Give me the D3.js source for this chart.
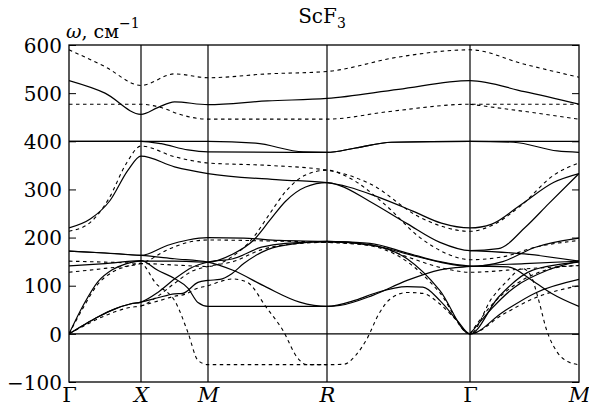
<!DOCTYPE html>
<html lang="en">
<head>
<meta charset="utf-8">
<title>ScF3 phonons</title>
<script src="https://d3js.org/d3.v7.min.js"></script>
<style>
  body { margin: 0; background: #fff; }
  text { font-family: "DejaVu Serif", "Liberation Serif", serif; fill: #000; }
</style>
</head>
<body>
<script>
// high-symmetry points along the path
var kLabels = ["Γ", "X", "M", "R", "Γ", "M"];
var kItalic = [false, true, true, true, false, true];
var kPos = [0, 1, 2, 3, 4, 5];
var kDist = [0, 72, 139, 258, 401, 510];   // segment lengths as drawn
var yTicks = [-100, 0, 100, 200, 300, 400, 500, 600];

// solid branches: [k, omega]
var solidBands = [
  [[0,526],[0.5,500],[1,456],[1.25,470],[1.5,482],[2,476],[2.5,484],[3,489],[3.5,508],[4,526],[4.5,503],[5,477]],
  [[0,400],[1,400],[2,400],[2.4,396],[2.8,378],[3,377],[3.2,386],[3.45,398],[4,400],[5,400]],
  [[0,400],[1,400],[1.3,395],[1.7,382],[2,378],[3,377],[3.2,386],[3.45,398],[4,400],[4.4,398],[4.8,380],[5,377]],
  [[0,220],[0.3,239],[0.57,277],[0.82,340],[1,369],[1.5,347],[2,333],[2.6,320],[3,314],[3.15,305],[3.35,285],[3.6,255],[3.8,230],[4,220],[4.2,228],[4.46,267],[4.77,315],[5,333]],
  // LA -> M 149 -> R 314 -> G 173 -> M 333
  [[0,0],[0.2,60],[0.4,108],[0.6,133],[0.8,146],[1,151],[1.5,151],[2,149],[2.21,166],[2.38,194],[2.52,236],[2.65,275],[2.82,305],[3,314],[3.09,308],[3.3,275],[3.56,229],[3.79,190],[4,173],[4.26,177],[4.51,222],[4.72,270],[5,333]],
  [[0,172],[0.5,168],[1,163],[1.5,156],[2,149],[2.21,132],[2.49,97],[2.77,66],[3,57],[3.09,59],[3.32,80],[3.56,111],[3.79,133],[4,140],[4.5,146],[5,151]],
  [[0,172],[0.5,168],[1,163],[1.4,184],[1.7,195],[2,200],[2.3,199],[2.6,194],[3,192],[3.3,188],[3.56,168],[3.79,150],[4,141],[4.35,139],[4.57,111],[4.75,84],[5,57]],
  // TA branches
  [[0,0],[0.2,18],[0.4,35],[0.64,52],[0.85,62],[1,66],[1.25,86],[1.5,114],[1.76,138],[2,149],[2.21,156],[2.45,180],[2.65,188],[3,191],[3.32,184],[3.56,166],[3.79,149],[4,140],[4.3,150],[4.6,180],[5,199]],
  [[0,0],[0.2,18],[0.4,35],[0.64,52],[0.85,62],[1,66],[1.25,75],[1.5,83],[1.62,84],[1.85,107],[2,111],[2.1,113],[2.2,125],[2.3,146],[2.5,175],[2.75,188],[3,192],[3.3,185],[3.56,156],[3.79,90],[4,0],[4.3,45],[4.6,85],[5,113]],
  [[0,141],[0.5,146],[1,152],[1.25,132],[1.5,115],[1.7,95],[1.85,65],[2,57],[3,57],[3.2,70],[3.35,86],[3.56,98],[3.67,97],[3.79,69],[3.91,28],[4,0],[4.26,76],[4.57,132],[5,149]],
  [[4,173],[4.5,166],[5,151]],
  [[4,0],[4.41,97],[4.71,132],[5,151]]
];

// dashed branches: [k, omega]
var dashedBands = [
  [[0,590],[0.5,555],[1,516],[1.5,540],[2,532],[2.5,540],[3,545],[3.5,575],[4,590],[4.5,560],[5,533]],
  [[0,477],[1,477],[1.3,470],[1.6,455],[2,446],[3,446],[3.44,462],[4,477],[5,477]],
  [[4,477],[4.5,462],[5,446]],
  [[0,213],[0.3,232],[0.55,280],[0.8,355],[1,390],[1.5,368],[2,355],[2.5,350],[3,340],[3.3,312],[3.65,242],[4,213],[4.2,225],[4.46,265],[4.77,330],[5,355]],
  [[0,0],[0.2,55],[0.4,103],[0.6,128],[0.8,140],[1,146],[1.5,143],[2,140],[2.2,160],[2.38,200],[2.52,250],[2.65,295],[2.82,330],[3,340],[3.15,325],[3.4,270],[3.65,200],[3.85,165],[4,154],[4.3,160],[4.6,180],[5,194]],
  [[0,0],[0.2,16],[0.4,31],[0.64,46],[0.85,55],[1,58],[1.25,78],[1.5,105],[1.76,130],[2,140],[2.21,150],[2.45,175],[2.65,185],[3,190],[3.3,185],[3.56,160],[3.79,138],[4,128],[4.5,135],[5,142]],
  [[1,58],[1.25,68],[1.5,78],[1.65,82],[1.85,95],[2,100],[2.12,110],[2.21,114],[2.33,107],[2.49,55],[2.63,7],[2.75,-49],[2.83,-64],[3,-64],[3.12,-63],[3.2,-45],[3.28,-10],[3.36,40],[3.44,72],[3.56,86],[3.67,84],[3.79,62],[3.9,30],[4,0],[4.3,40],[4.6,75],[5,100]],
  [[0,151],[0.5,149],[1,146],[1.21,107],[1.53,62],[1.7,3],[1.85,-55],[2,-64],[3,-64]],
  [[0,128],[0.5,136],[1,146],[1.4,175],[1.7,190],[2,195],[2.5,193],[3,190],[3.3,183],[3.56,150],[3.79,85],[4,0],[4.2,74],[4.35,112],[4.48,136],[4.56,120],[4.63,70],[4.7,10],[4.8,-38],[4.9,-58],[5,-64]],
  [[4,0],[4.2,60],[4.4,100],[4.6,125],[4.8,138],[5,142]]
];

var W = 589, H = 412;
var margin = {top: 45, right: 10, bottom: 30, left: 69};
var iw = W - margin.left - margin.right;
var ih = H - margin.top - margin.bottom;

var svg = d3.select("body").append("svg").attr("width", W).attr("height", H);

var distScale = d3.scaleLinear().domain([0, d3.max(kDist)]).range([0, iw]);
var x = d3.scaleLinear().domain(kPos).range(kDist.map(distScale));
var y = d3.scaleLinear().domain([-100, 600]).range([ih, 0]);

var g = svg.append("g").attr("transform", "translate(" + margin.left + "," + margin.top + ")");

g.append("clipPath").attr("id", "clip")
  .append("rect").attr("width", iw).attr("height", ih);

// y axis labels + inner ticks
var yAxis = d3.axisLeft(y).tickValues(yTicks).tickSize(-7).tickPadding(7);
var ya = g.append("g").call(yAxis);
ya.select(".domain").remove();
ya.selectAll("text").style("font-size", "20px").attr("dy", "0.36em");
ya.selectAll("line").attr("stroke", "#000");

var yAxisR = d3.axisRight(y).tickValues(yTicks).tickSize(-7).tickFormat("");
var yr = g.append("g").attr("transform", "translate(" + iw + ",0)").call(yAxisR);
yr.select(".domain").remove();

// x labels
var xAxis = d3.axisBottom(x).tickValues(kPos).tickSize(0).tickPadding(5)
  .tickFormat(function(d, i) { return kLabels[i]; });
var xa = g.append("g").attr("transform", "translate(0," + ih + ")").call(xAxis);
xa.select(".domain").remove();
xa.selectAll("text").style("font-size", "21px")
  .style("font-style", function(d, i) { return kItalic[i] ? "italic" : "normal"; });

// symmetry lines and zero line
g.selectAll(".kline").data(kPos.slice(1, -1)).enter().append("line")
  .attr("x1", function(d) { return x(d); }).attr("x2", function(d) { return x(d); })
  .attr("y1", 0).attr("y2", ih).attr("stroke", "#000").attr("stroke-width", 1.2);
g.append("line").attr("x1", 0).attr("x2", iw).attr("y1", y(0)).attr("y2", y(0))
  .attr("stroke", "#000").attr("stroke-width", 1.2);

var line = d3.line()
  .x(function(d) { return x(d[0]); })
  .y(function(d) { return y(d[1]); })
  .curve(d3.curveMonotoneX);

var bands = g.append("g").attr("clip-path", "url(#clip)");
bands.selectAll(".solid").data(solidBands).enter().append("path")
  .attr("d", line).attr("fill", "none").attr("stroke", "#000").attr("stroke-width", 1.2);
bands.selectAll(".dashed").data(dashedBands).enter().append("path")
  .attr("d", line).attr("fill", "none").attr("stroke", "#000").attr("stroke-width", 1.1)
  .attr("stroke-dasharray", "3.5,3.5");

// frame
g.append("rect").attr("width", iw).attr("height", ih)
  .attr("fill", "none").attr("stroke", "#000").attr("stroke-width", 1.3);

// title
var title = svg.append("text").attr("x", 322).attr("y", 23).style("font-size", "20px")
  .attr("text-anchor", "middle");
title.append("tspan").text("ScF");
title.append("tspan").text("3").attr("dy", 5).style("font-size", "14px");

// axis unit label
var ylab = svg.append("text").attr("x", 66).attr("y", 38).style("font-size", "19px");
ylab.append("tspan").text("ω").style("font-style", "italic");
ylab.append("tspan").text(", см");
ylab.append("tspan").text("−1").attr("dy", -10).style("font-size", "14px");
</script>
</body>
</html>
